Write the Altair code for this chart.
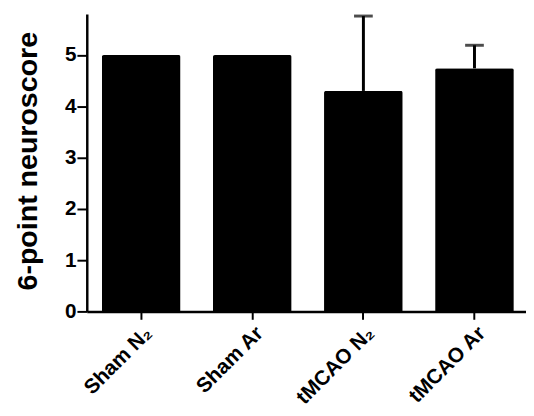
import altair as alt
import pandas as pd

groups = ["Sham N₂", "Sham Ar", "tMCAO N₂", "tMCAO Ar"]
means = [5.0, 5.0, 4.30, 4.74]
sds = [0.0, 0.0, 1.46, 0.45]
y_ticks = [0, 1, 2, 3, 4, 5]

df = pd.DataFrame({"group": groups, "mean": means, "sd": sds})
df["upper"] = df["mean"] + df["sd"]

FONT = "Liberation Sans"

x_enc = alt.X(
    "group:N",
    sort=groups,
    title=None,
    scale=alt.Scale(paddingInner=0.291, paddingOuter=0.1225, align=0.554),
    axis=alt.Axis(
        labelAngle=-45,
        labelFontSize=21,
        labelFontWeight="bold",
        labelFont=FONT,
        labelColor="black",
        tickSize=8,
        tickWidth=2,
        tickColor="black",
        domainColor="black",
        domainWidth=2.5,
        labelPadding=3,
    ),
)

y_scale = alt.Scale(domain=[0, 5.8], nice=False, zero=True)

bars = alt.Chart(df).mark_bar(
    color="black", cornerRadiusTopLeft=2, cornerRadiusTopRight=2
).encode(
    x=x_enc,
    y=alt.Y(
        "mean:Q",
        scale=y_scale,
        title="6-point neuroscore",
        axis=alt.Axis(
            values=y_ticks,
            grid=False,
            labelFontSize=21,
            labelFontWeight="bold",
            labelFont=FONT,
            labelColor="black",
            labelPadding=1,
            tickSize=10,
            tickWidth=2,
            tickColor="black",
            domainColor="black",
            domainWidth=2.5,
            titleFont=FONT,
            titleFontSize=29,
            titleFontWeight="bold",
            titleColor="black",
            titleX=-51,
            titleY=149,
            titleBaseline="alphabetic",
            titleAlign="center",
            titleAngle=270,
        ),
    ),
)

err = alt.Chart(df).transform_filter("datum.sd > 0")

stems = err.mark_rule(color="black", strokeWidth=3).encode(
    x=alt.X("group:N", sort=groups),
    y=alt.Y("mean:Q", scale=y_scale),
    y2="upper:Q",
)

caps = err.mark_tick(color="black", thickness=3, size=19, orient="horizontal").encode(
    x=alt.X("group:N", sort=groups),
    y=alt.Y("upper:Q", scale=y_scale),
)

chart = (
    alt.layer(bars, stems, caps)
    .properties(
        width=446,
        height=302,
        autosize=alt.AutoSizeParams(type="none"),
        padding={"left": 80, "top": 3, "right": 0, "bottom": 95},
    )
    .configure_view(stroke=None)
)

chart.save("out.html", embed_options={"renderer": "svg", "actions": False})
